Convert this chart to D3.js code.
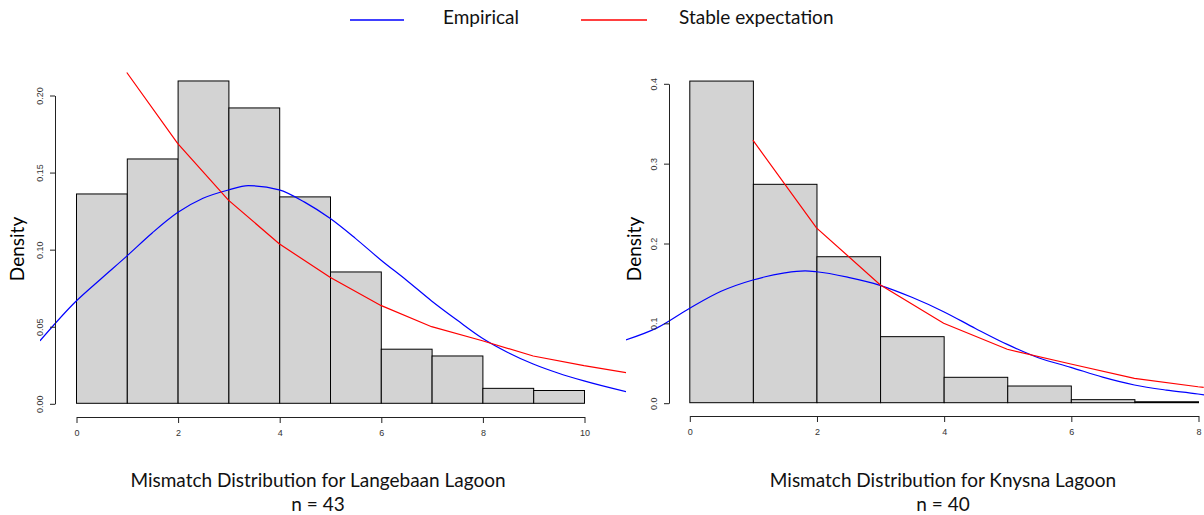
<!DOCTYPE html>
<html>
<head>
<meta charset="utf-8">
<script src="https://cdn.jsdelivr.net/npm/d3@7"></script>
<style>
  html, body { margin: 0; padding: 0; background: #fff; }
  svg { display: block; }
</style>
</head>
<body>
<svg id="chart" width="1204" height="515"></svg>
<script>
// ---------- DATA ----------
const legendLabels = ["Empirical", "Stable expectation"];

// Langebaan Lagoon
const leftBreaks = [0, 1, 2, 3, 4, 5, 6, 7, 8, 9, 10];
const leftDensity = [0.1358, 0.1585, 0.2091, 0.1916, 0.1339, 0.0852, 0.0351, 0.0307, 0.0097, 0.0083];
const leftEmpX = [-0.71, 0, 0.5, 1, 1.5, 2, 2.5, 3, 3.39, 4, 4.5, 5, 5.5, 6, 6.5, 7, 7.5, 8, 8.5, 9, 9.5, 10, 10.83];
const leftEmpY = [0.0405, 0.0662, 0.0810, 0.0955, 0.1105, 0.1237, 0.1330, 0.1384, 0.1412, 0.1385, 0.1305, 0.1200, 0.1070, 0.0930, 0.0800, 0.0664, 0.0540, 0.0422, 0.0330, 0.0255, 0.0195, 0.0145, 0.0075];
const leftStableX = [1, 2, 3, 4, 5, 6, 7, 8, 9, 10, 10.83];
const leftStableY = [0.2146, 0.1686, 0.1318, 0.1035, 0.0817, 0.0635, 0.0497, 0.0406, 0.0307, 0.0244, 0.0199];
const leftXTicks = [0, 2, 4, 6, 8, 10];
const leftYTicks = [0, 0.05, 0.10, 0.15, 0.20];
const leftTitle = "Mismatch Distribution for Langebaan Lagoon";
const leftN = "n = 43";

// Knysna Lagoon
const rightBreaks = [0, 1, 2, 3, 4, 5, 6, 7, 8];
const rightDensity = [0.4028, 0.2735, 0.1828, 0.0827, 0.0318, 0.0209, 0.0038, 0.0012];
const rightEmpX = [-1, -0.5, 0, 0.5, 1, 1.5, 1.82, 2, 2.5, 3, 3.5, 4, 4.5, 5, 5.5, 6, 6.5, 7, 7.5, 8, 8.1];
const rightEmpY = [0.0785, 0.0940, 0.1180, 0.1395, 0.1537, 0.1625, 0.1650, 0.1640, 0.1570, 0.1470, 0.1320, 0.1140, 0.0930, 0.0730, 0.0560, 0.0443, 0.0320, 0.0222, 0.0158, 0.0109, 0.0096];
const rightStableX = [1, 2, 3, 4, 5, 6, 7, 8, 8.09];
const rightStableY = [0.3289, 0.2190, 0.1478, 0.0994, 0.0669, 0.0485, 0.0305, 0.0200, 0.0193];
const rightXTicks = [0, 2, 4, 6, 8];
const rightYTicks = [0, 0.1, 0.2, 0.3, 0.4];
const rightTitle = "Mismatch Distribution for Knysna Lagoon";
const rightN = "n = 40";

// ---------- DRAW ----------
const svg = d3.select("#chart");
const BLUE = "#0000ff", RED = "#ff0000";
const titleFont = "Lato, 'Open Sans', sans-serif";
const tickFont = "'Liberation Sans', Arial, sans-serif";

function panel(cfg) {
  const x = d3.scaleLinear().domain(cfg.xDomain).range(cfg.xRange);
  const y = d3.scaleLinear().domain(cfg.yDomain).range(cfg.yRange);
  const g = svg.append("g");

  const clipId = "clip" + cfg.id;
  svg.append("clipPath").attr("id", clipId)
    .append("rect")
    .attr("x", cfg.clip[0]).attr("y", 0)
    .attr("width", cfg.clip[1] - cfg.clip[0]).attr("height", 515);

  // bars
  const bins = cfg.density.map((d, i) => ({ x0: cfg.breaks[i], x1: cfg.breaks[i + 1], d }));
  g.selectAll("rect.bar").data(bins).join("rect")
    .attr("class", "bar")
    .attr("x", b => x(b.x0) + 0.5)
    .attr("y", b => y(b.d))
    .attr("width", b => x(b.x1) - x(b.x0))
    .attr("height", b => y(0) - y(b.d))
    .attr("fill", "#d3d3d3")
    .attr("stroke", "#000")
    .attr("stroke-width", 1);

  const smooth = d3.line().curve(d3.curveMonotoneX).x(p => x(p[0])).y(p => y(p[1]));
  const straight = d3.line().x(p => x(p[0])).y(p => y(p[1]));
  const cg = g.append("g").attr("clip-path", `url(#${clipId})`);
  cg.append("path")
    .attr("d", smooth(cfg.empX.map((v, i) => [v, cfg.empY[i]])))
    .attr("fill", "none").attr("stroke", BLUE).attr("stroke-width", 1.2);
  cg.append("path")
    .attr("d", straight(cfg.stX.map((v, i) => [v, cfg.stY[i]])))
    .attr("fill", "none").attr("stroke", RED).attr("stroke-width", 1.2);

  // x axis
  const xa = g.append("g")
    .attr("transform", `translate(0.5,${cfg.xAxisY})`)
    .call(d3.axisBottom(x).tickValues(cfg.xTicks).tickSize(6).tickSizeOuter(0).tickPadding(7)
      .tickFormat(d3.format("d")));
  xa.select(".domain").attr("stroke", "#222");
  xa.selectAll(".tick line").attr("stroke", "#222");
  xa.selectAll("text").attr("font-family", tickFont).attr("font-size", 9).attr("fill", "#333");

  // y axis
  const ya = g.append("g")
    .attr("transform", `translate(${cfg.yAxisX},0.5)`)
    .call(d3.axisLeft(y).tickValues(cfg.yTicks).tickSize(5).tickSizeOuter(0)
      .tickFormat(cfg.yFmt));
  ya.select(".domain").attr("stroke", "#222");
  ya.selectAll(".tick line").attr("stroke", "#222");
  ya.selectAll("text")
    .attr("font-family", tickFont).attr("font-size", 9).attr("fill", "#333")
    .attr("transform", "rotate(-90)")
    .attr("text-anchor", "middle")
    .attr("x", 0).attr("dy", 0).attr("y", -12);

  // y label
  g.append("text")
    .attr("transform", `translate(${cfg.yLabelX},${cfg.yLabelY}) rotate(-90)`)
    .attr("text-anchor", "middle")
    .attr("font-family", titleFont).attr("font-size", 19).attr("fill", "#000")
    .text("Density");

  // titles
  g.append("text").attr("x", cfg.titleX).attr("y", 487)
    .attr("text-anchor", "middle")
    .attr("font-family", titleFont).attr("font-size", 19).attr("fill", "#111")
    .text(cfg.title);
  g.append("text").attr("x", cfg.titleX).attr("y", 511)
    .attr("text-anchor", "middle")
    .attr("font-family", titleFont).attr("font-size", 19).attr("fill", "#111")
    .text(cfg.n);
}

panel({
  id: "L", xDomain: [0, 10], xRange: [76, 584], yDomain: [0, 0.2], yRange: [403.3, 95],
  breaks: leftBreaks, density: leftDensity,
  empX: leftEmpX, empY: leftEmpY, stX: leftStableX, stY: leftStableY,
  xTicks: leftXTicks, yTicks: leftYTicks, yFmt: d3.format(".2f"),
  xAxisY: 417, yAxisX: 55, clip: [40, 626],
  yLabelX: 24, yLabelY: 249, titleX: 318, title: leftTitle, n: leftN
});

panel({
  id: "R", xDomain: [0, 8], xRange: [689.3, 1198], yDomain: [0, 0.4], yRange: [402.7, 83.3],
  breaks: rightBreaks, density: rightDensity,
  empX: rightEmpX, empY: rightEmpY, stX: rightStableX, stY: rightStableY,
  xTicks: rightXTicks, yTicks: rightYTicks, yFmt: d3.format(".1f"),
  xAxisY: 416, yAxisX: 669, clip: [626, 1204],
  yLabelX: 641, yLabelY: 249, titleX: 943, title: rightTitle, n: rightN
});

// legend
const legend = svg.append("g");
const legItems = [
  { label: legendLabels[0], color: BLUE, x1: 350, x2: 404, tx: 443 },
  { label: legendLabels[1], color: RED, x1: 581, x2: 647, tx: 679 }
];
legItems.forEach(it => {
  legend.append("line").attr("x1", it.x1).attr("x2", it.x2).attr("y1", 20).attr("y2", 20)
    .attr("stroke", it.color).attr("stroke-width", 1.6);
  legend.append("text").attr("x", it.tx).attr("y", 23.5)
    .attr("font-family", titleFont).attr("font-size", 19).attr("fill", "#111")
    .text(it.label);
});
</script>
</body>
</html>
